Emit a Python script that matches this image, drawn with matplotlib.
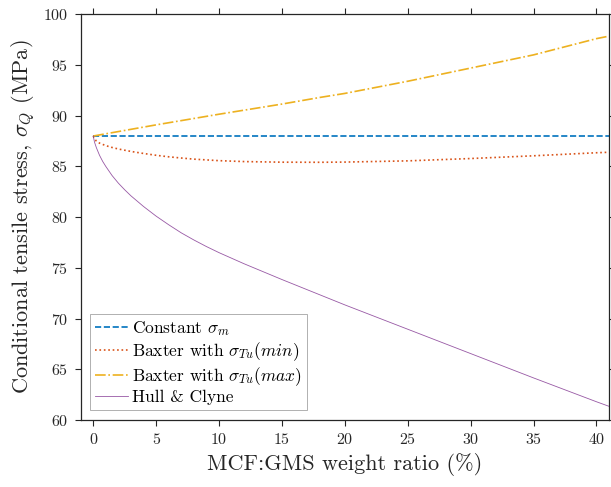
import numpy as np
import matplotlib
matplotlib.use('Agg')
import matplotlib.pyplot as plt

plt.rcParams['font.family'] = 'cmr10'
plt.rcParams['mathtext.fontset'] = 'cm'
plt.rcParams['axes.formatter.use_mathtext'] = True

# weight ratio (%) and conditional tensile stress (MPa) for each model
ratio_const = [0, 41]
constant = [88.0, 88.0]

ratio_min = [0, 0.1, 0.25, 0.5, 1, 1.5, 2, 3, 4, 5, 6, 7, 8, 10, 12, 15, 18, 20,
             25, 30, 35, 40, 41]
baxter_min = [88.0, 87.75, 87.5, 87.3, 87.05, 86.87, 86.72, 86.48, 86.28, 86.1,
              85.95, 85.83, 85.72, 85.57, 85.48, 85.42, 85.41, 85.43, 85.55,
              85.78, 86.05, 86.35, 86.4]

ratio_max = [0, 5, 10, 15, 18, 20, 25, 30, 35, 40, 41]
baxter_max = [88.0, 89.1, 90.15, 91.15, 91.8, 92.2, 93.4, 94.7, 96.0, 97.6, 97.85]

ratio_hc = [0, 0.1, 0.25, 0.5, 0.75, 1, 1.5, 2, 2.5, 3, 4, 5, 6, 7, 8, 9, 10,
            12, 15, 18, 20, 25, 30, 35, 40, 41]
hull_clyne = [88.0, 87.4, 86.85, 86.1, 85.5, 85.0, 84.1, 83.35, 82.7, 82.1,
              81.05, 80.1, 79.25, 78.45, 77.75, 77.1, 76.5, 75.4, 73.85, 72.35,
              71.35, 68.95, 66.55, 64.15, 61.8, 61.35]

labels = [r'Constant $\sigma_m$',
          r'Baxter with $\sigma_{Tu}(min)$',
          r'Baxter with $\sigma_{Tu}(max)$',
          'Hull & Clyne']

fig = plt.figure(figsize=(6.11, 4.87), dpi=100)
ax = fig.add_axes([0.132, 0.1376, 0.8647, 0.833])

ax.plot(ratio_const, constant, '--', color='#0072BD', lw=1.2, label=labels[0])
ax.plot(ratio_min, baxter_min, ':', color='#D95319', lw=1.2, label=labels[1])
ax.plot(ratio_max, baxter_max, '-.', color='#EDB120', lw=1.2, label=labels[2])
ax.plot(ratio_hc, hull_clyne, '-', color='#7E2F8E', lw=0.6, alpha=0.8, label=labels[3])

ax.set_xlim(-1, 41)
ax.set_ylim(60, 100)
ax.set_xticks(np.arange(0, 41, 5))
ax.set_yticks(np.arange(60, 101, 5))

axis_col = '#262626'
for s in ax.spines.values():
    s.set_linewidth(0.9)
    s.set_color(axis_col)
ax.tick_params(direction='out', length=4, width=0.8, colors=axis_col,
               labelsize=11.5, top=True, right=True, pad=5)

ax.set_xlabel('MCF:GMS weight ratio (%)', fontsize=16, color=axis_col)
ax.set_ylabel(r'Conditional tensile stress, $\sigma_Q$ (MPa)', fontsize=16, color=axis_col)

leg = ax.legend(loc='lower left', fontsize=12.5, frameon=True, fancybox=False,
                borderaxespad=0.55, handlelength=1.85, handletextpad=0.25,
                labelspacing=0.12, borderpad=0.3)
leg.get_frame().set_edgecolor('#8c8c8c')
leg.get_frame().set_linewidth(0.6)

fig.savefig('out.png', dpi=100)
